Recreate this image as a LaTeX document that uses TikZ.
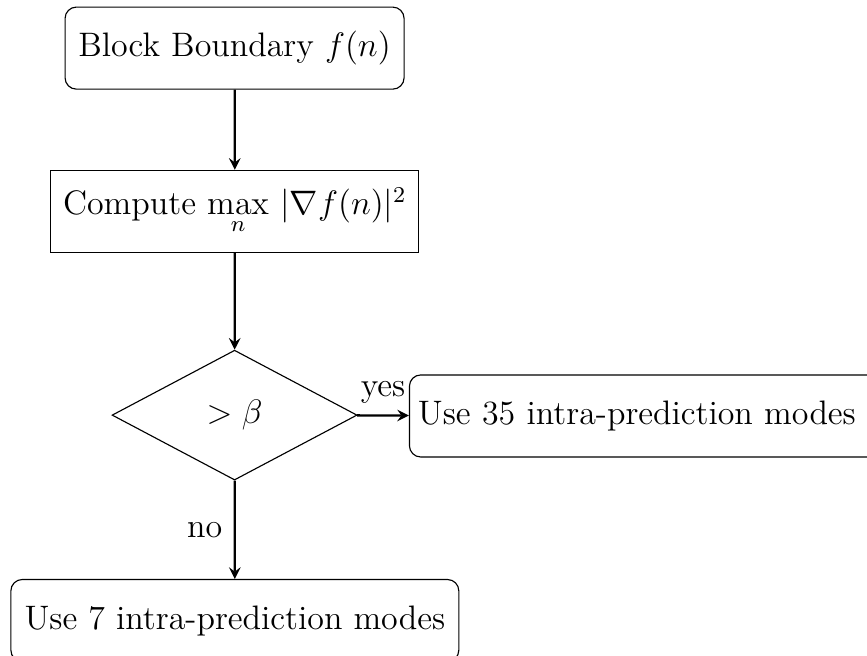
\documentclass[tikz,12pt,border=0pt]{standalone}
\usetikzlibrary{shapes.geometric,arrows}

\tikzset{
  boxbase/.style={minimum height=29pt, inner sep=2pt, text centered, draw=black},
  startstop/.style={boxbase, rectangle, rounded corners},
  process/.style={boxbase, rectangle},
  decision/.style={diamond, minimum width=86.6pt, minimum height=45.9pt, inner sep=0pt, text centered, draw=black},
  arrow/.style={thick, ->, >=stealth}
}

\begin{document}
\begin{tikzpicture}
  % page frame
  \useasboundingbox (0pt,0pt) rectangle (306.4pt,-231.5pt);

  \node[startstop, minimum width=119.8pt] (start) at (82.9pt,-17pt) {Block Boundary $f(n)$};
  \node[process, minimum width=130pt] (grad) at (83pt,-74.7pt) {Compute $\max\limits_{n}\,|\nabla f(n)|^2$};
  \node[decision] (dec) at (82.9pt,-146.7pt) {$>\beta$};
  \node[startstop, inner xsep=3pt, text width=160pt, align=left, anchor=west] (many) at (144.5pt,-147pt) {Use 35 intra-prediction modes};
  \node[startstop, minimum width=158.3pt, anchor=north] (few) at (83pt,-204.6pt) {Use 7 intra-prediction modes};

  \draw[arrow] (start) -- (grad);
  \draw[arrow] (grad) -- (dec);
  \draw[arrow] (dec) -- node[above] {yes} (many);
  \draw[arrow] (dec) -- node[left] {no} (few);
\end{tikzpicture}
\end{document}
